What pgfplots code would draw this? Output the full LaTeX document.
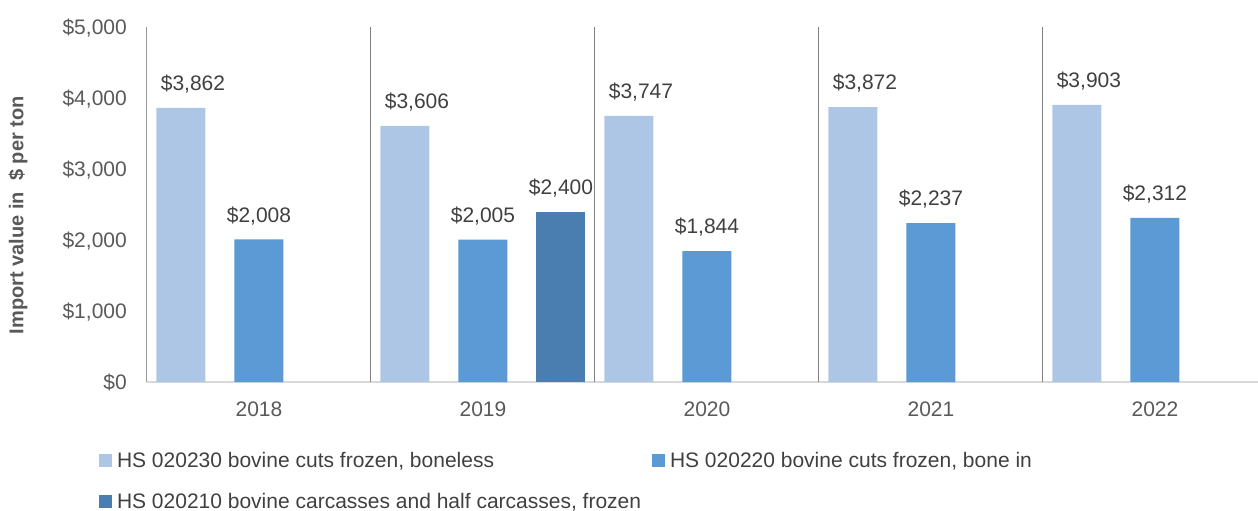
\documentclass[border=0pt]{standalone}
\usepackage{fontspec}
\setmainfont{Liberation Sans}
\usepackage{pgfplots}
\pgfplotsset{compat=1.18}
\definecolor{c1}{RGB}{174,198,230}
\definecolor{c2}{RGB}{91,154,213}
\definecolor{c3}{RGB}{74,126,176}
\definecolor{txt}{RGB}{64,64,64}
\definecolor{tickc}{RGB}{89,89,89}
\definecolor{sepc}{RGB}{128,128,128}
\definecolor{basec}{RGB}{217,217,217}
\newcommand{\lbl}{\fontsize{21bp}{25bp}\selectfont}
\newcommand{\ylbl}{\fontsize{20bp}{24bp}\selectfont}
\begin{document}
\begin{tikzpicture}
\path[use as bounding box] (-147bp,-129bp) rectangle (1111bp,382bp);
\begin{axis}[
  at={(0,0)}, anchor=south west,
  scale only axis, width=1111bp, height=355bp,
  xmin=-0.5, xmax=4.46, ymin=0, ymax=5000,
  axis x line*=bottom, axis y line*=left,
  x axis line style={draw=basec, line width=1.5bp, -},
  y axis line style={draw=sepc!80, line width=1bp, -},
  xtick={0,1,2,3,4}, xticklabels={2018,2019,2020,2021,2022},
  major tick length=0pt,
  ytick={0,1000,2000,3000,4000,5000},
  yticklabel={\$\pgfmathprintnumber{\tick}},
  /pgf/number format/1000 sep={,},
  /pgf/number format/assume math mode=true,
  tick label style={font=\lbl, text=tickc},
  yticklabel style={inner sep=0pt, text depth=0pt, anchor=east, xshift=-20bp},
  xticklabel style={inner sep=0pt, anchor=north, yshift=-20bp},
  extra x ticks={0.5,1.5,2.5,3.5}, extra x tick labels={},
  extra x tick style={grid=major, major grid style={draw=sepc, line width=1bp}},
  ylabel={Import value in\ \ \$ per ton},
  every axis y label/.style={at={(axis description cs:-0.1161,0.47)}, rotate=90, anchor=center, font=\ylbl\bfseries, text=tickc},
  ybar, bar width=49bp,
  nodes near coords={\$\pgfmathprintnumber{\pgfplotspointmeta}},
  every node near coord/.append style={font=\lbl, text=txt, inner sep=0pt, text depth=0pt, yshift=17bp},
  legend columns=2,
  legend cell align=left,
  legend image code/.code={\fill[#1] (0bp,-5bp) rectangle (13bp,8bp);},
  legend style={at={(axis description cs:-0.0432,-0.1972)}, anchor=north west, draw=none, fill=none, inner sep=0pt, outer sep=0pt, font=\lbl, text=txt,
    nodes={inner sep=0pt, text height=15bp, text depth=5bp, anchor=west},
    /tikz/every odd column/.append style={column sep=5bp},
    /tikz/every even column/.append style={column sep=15bp},
    row sep=21bp},
]
\addplot[fill=c1, draw=none, bar shift=-78bp, every node near coord/.append style={xshift=12bp}] coordinates {(0,3862) (1,3606) (2,3747) (3,3872) (4,3903)};
\addlegendentry{\makebox[520bp][l]{HS 020230 bovine cuts frozen, boneless}}
\addplot[fill=c2, draw=none, bar shift=0bp] coordinates {(0,2008) (1,2005) (2,1844) (3,2237) (4,2312)};
\addlegendentry{HS 020220 bovine cuts frozen, bone in}
\addplot[fill=c3, draw=none, bar shift=78bp] coordinates {(1,2400)};
\addlegendentry{\makebox[520bp][l]{HS 020210 bovine carcasses and half carcasses, frozen}}
\end{axis}
\end{tikzpicture}
\end{document}
